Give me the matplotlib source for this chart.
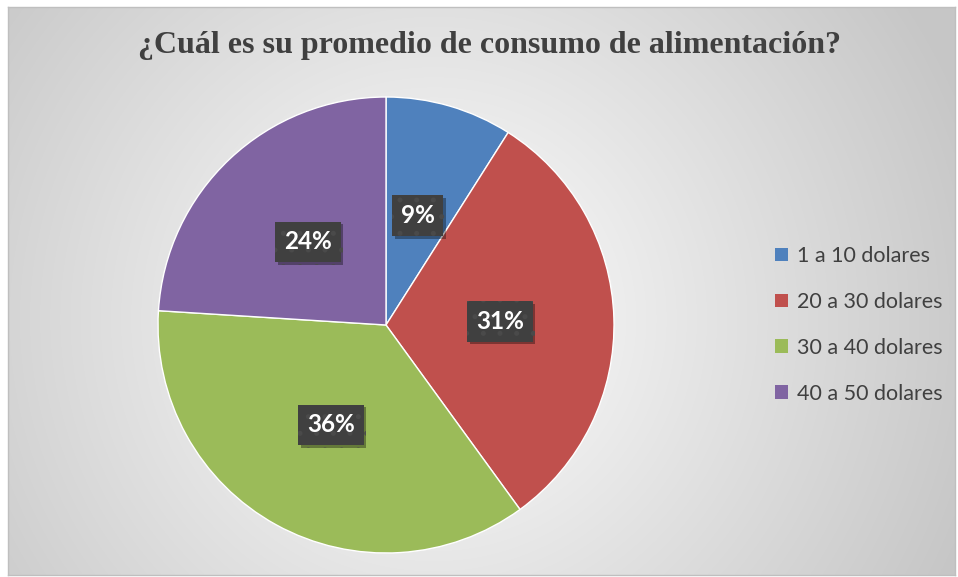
import numpy as np
import matplotlib
matplotlib.use("Agg")
import matplotlib.pyplot as plt
from matplotlib.patches import Patch
import matplotlib.patheffects as pe

title = "¿Cuál es su promedio de consumo de alimentación?"
categories = ["1 a 10 dolares", "20 a 30 dolares", "30 a 40 dolares", "40 a 50 dolares"]
values = [9, 31, 36, 24]
colors = ["#4F81BD", "#C0504D", "#9BBB59", "#8064A2"]

W, H = 958, 577
fig = plt.figure(figsize=(W / 100, H / 100), dpi=100)
fig.patch.set_facecolor("white")

# background with radial gradient
x0, y0, x1, y1 = 8, 7, 955, 575
bg = fig.add_axes([x0 / W, 1 - y1 / H, (x1 - x0) / W, (y1 - y0) / H])
gx, gy = np.meshgrid(np.linspace(0, 1, 400), np.linspace(0, 1, 240))
cx, cy = 0.45, 0.55
r = np.sqrt(((gx - cx) * 1.0) ** 2 + ((gy - cy) * 0.6) ** 2) / 0.6
g = np.clip(1.0 - 0.22 * r, 0.78, 1.0)
img = np.dstack([g, g, g])
bg.imshow(img, extent=[0, 1, 0, 1], aspect="auto", origin="upper", interpolation="bilinear")
bg.set_xlim(0, 1)
bg.set_ylim(0, 1)
bg.set_xticks([])
bg.set_yticks([])
for s in bg.spines.values():
    s.set_color("#bfbfbf")
    s.set_linewidth(1.0)

# pie
pcx, pcy, pr = 386, 325, 228
ax = fig.add_axes([(pcx - pr) / W, (H - pcy - pr) / H, 2 * pr / W, 2 * pr / H])
ax.set_facecolor("none")
wedges, texts = ax.pie(values, colors=colors, startangle=90, counterclock=False,
                       radius=1.0, wedgeprops=dict(edgecolor="white", linewidth=1.0))
ax.set_xlim(-1, 1)
ax.set_ylim(-1, 1)
ax.set_aspect("equal")
ax.axis("off")

# labels
plt.rcParams["hatch.linewidth"] = 1.2
total = sum(values)
theta = 90.0
for v in values:
    mid = theta - 360.0 * v / total / 2
    theta -= 360.0 * v / total
    tx = 0.5 * np.cos(np.deg2rad(mid))
    ty = 0.5 * np.sin(np.deg2rad(mid))
    t = ax.text(tx, ty, f"{v}%", ha="center", va="center", color="white",
                fontsize=17.5, fontweight="bold", family=["Lato", "DejaVu Sans"],
                bbox=dict(boxstyle="square,pad=0.36", facecolor="#404040",
                          edgecolor="#4a4a4a", linewidth=0, hatch="."))
    t.get_bbox_patch().set_path_effects([
        pe.SimplePatchShadow(offset=(2, -2), shadow_rgbFace="#000000", alpha=0.35),
        pe.Normal()])

# title
fig.text(489 / W, 1 - 45 / H, title, ha="center", va="center", fontsize=23,
         fontweight="bold", color="#404040", family=["Liberation Serif", "DejaVu Serif"])

# legend
handles = [Patch(facecolor=c, edgecolor="none") for c in colors]
leg = fig.legend(handles, categories, loc="center left",
                 bbox_to_anchor=(764 / W, 1 - 325 / H), frameon=False,
                 prop=dict(family=["Lato", "DejaVu Sans"], size=15.5),
                 labelcolor="#404040", handlelength=0.6, handleheight=0.6,
                 handletextpad=0.45, labelspacing=1.2, borderpad=0)

fig.savefig("out.png", dpi=100)
